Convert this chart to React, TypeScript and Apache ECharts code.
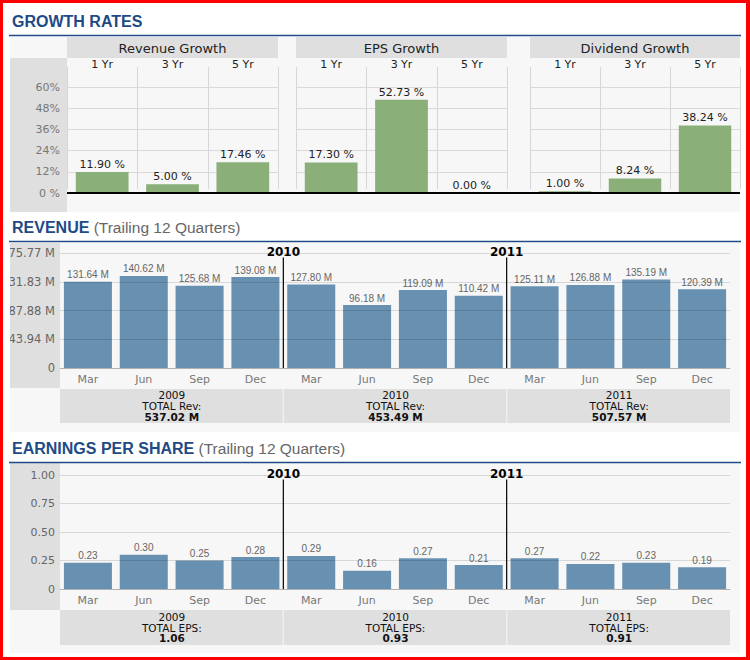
import React, { useEffect, useRef } from "react";
import * as echarts from "echarts";

// ---------- data ----------
const growthGroups = ["Revenue Growth", "EPS Growth", "Dividend Growth"];
const growthPeriods = ["1 Yr", "3 Yr", "5 Yr"];
const revenueGrowth = [11.9, 5.0, 17.46];
const epsGrowth = [17.3, 52.73, 0.0];
const dividendGrowth = [1.0, 8.24, 38.24];
const growthTickLabels = ["0 %", "12%", "24%", "36%", "48%", "60%"];

const quarters = ["Mar", "Jun", "Sep", "Dec", "Mar", "Jun", "Sep", "Dec", "Mar", "Jun", "Sep", "Dec"];
const years = ["2009", "2010", "2011"];
const revenueValues = [131.64, 140.62, 125.68, 139.08, 127.8, 96.18, 119.09, 110.42, 125.11, 126.88, 135.19, 120.39];
const revenueTotals = ["537.02 M", "453.49 M", "507.57 M"];
const revenueTickLabels = ["0", "43.94 M", "87.88 M", "131.83 M", "175.77 M"];
const epsValues = [0.23, 0.3, 0.25, 0.28, 0.29, 0.16, 0.27, 0.21, 0.27, 0.22, 0.23, 0.19];
const epsTotals = ["1.06", "0.93", "0.91"];
const epsTickLabels = ["0", "0.25", "0.50", "0.75", "1.00"];

// ---------- layout / style ----------
const VF = "'DejaVu Sans', Verdana, sans-serif";
const AF = "'Liberation Sans', Arial, sans-serif";
const BLUE = "#1e4a86";
const GREEN = "#8aaf78";
const STEEL = "#6890b0";
const PANEL = "#f7f7f7";
const GRAYBOX = "#dfdfdf";

const growthBoxes = [
  { left: 67, width: 211 },
  { left: 296, width: 211 },
  { left: 530, width: 210 },
];
const gTop = 87;
const gBottom = 193;
const plotLeft = 60;
const plotWidth = 670;
const revTop = 253;
const revBottom = 368;
const epsTop = 475;
const epsBottom = 589;
const revMax = 175.77;
const epsMax = 1.0;
const growthMax = 60;
const markerTopFrac = 0.96;

function App() {
  const ref = useRef<HTMLDivElement>(null);

  useEffect(() => {
    document.body.style.margin = "0";
    if (!ref.current) return;
    const chart = echarts.init(ref.current, null, { renderer: "svg" });

    const growthData = [revenueGrowth, epsGrowth, dividendGrowth];

    const graphics: any[] = [];
    // panels
    graphics.push({ type: "rect", z: -20, shape: { x: 10, y: 37, width: 730, height: 175 }, style: { fill: PANEL } });
    graphics.push({ type: "rect", z: -20, shape: { x: 10, y: 243, width: 730, height: 189 }, style: { fill: PANEL } });
    graphics.push({ type: "rect", z: -20, shape: { x: 10, y: 463, width: 730, height: 190 }, style: { fill: PANEL } });
    // gray label columns
    graphics.push({ type: "rect", z: -19, shape: { x: 10, y: 58, width: 57, height: 154 }, style: { fill: GRAYBOX } });
    graphics.push({ type: "rect", z: -19, shape: { x: 10, y: 243, width: 50, height: 145 }, style: { fill: GRAYBOX } });
    graphics.push({ type: "rect", z: -19, shape: { x: 10, y: 463, width: 50, height: 147 }, style: { fill: GRAYBOX } });

    // titles
    graphics.push({
      type: "text", z: 10, x: 12, y: 21,
      style: { text: "GROWTH RATES", font: `bold 16px ${AF}`, fill: BLUE, verticalAlign: "middle" },
    });
    const sectionTitle = (main: string, y: number) => ({
      type: "text", z: 10, x: 12, y,
      style: {
        text: `{a|${main}}{b| (Trailing 12 Quarters)}`,
        verticalAlign: "middle",
        rich: {
          a: { fontFamily: AF, fontSize: 16, fontWeight: "bold", fill: BLUE },
          b: { fontFamily: AF, fontSize: 15.5, fill: "#666" },
        },
      },
    });
    graphics.push(sectionTitle("REVENUE", 227));
    graphics.push(sectionTitle("EARNINGS PER SHARE", 448));
    // underlines
    [35.5, 241.5, 462.5].forEach((y) =>
      graphics.push({ type: "line", z: 10, shape: { x1: 9, y1: y, x2: 741, y2: y }, style: { stroke: BLUE, lineWidth: 1.5 } })
    );

    // growth headers and separators
    growthBoxes.forEach((b, i) => {
      graphics.push({ type: "rect", z: -18, shape: { x: b.left, y: 37, width: b.width, height: 21 }, style: { fill: GRAYBOX } });
      graphics.push({
        type: "text", z: 10, x: b.left + b.width / 2, y: 48,
        style: { text: growthGroups[i], font: `13px ${VF}`, fill: "#222", align: "center", verticalAlign: "middle" },
      });
      for (let j = 0; j <= growthPeriods.length; j++) {
        const x = Math.round(b.left + (j * b.width) / growthPeriods.length) + 0.5;
        graphics.push({ type: "line", z: -15, shape: { x1: x, y1: 67, x2: x, y2: 189 }, style: { stroke: "#d6d6d6", lineWidth: 1 } });
      }
    });
    // baseline of growth bars
    graphics.push({
      type: "line", z: 20,
      shape: { x1: growthBoxes[0].left, y1: gBottom, x2: growthBoxes[2].left + growthBoxes[2].width, y2: gBottom },
      style: { stroke: "#000", lineWidth: 2 },
    });

    // totals boxes
    const boxW = (plotWidth + 1) / years.length;
    const totalsBoxes = (y: number, h: number, label: string, totals: string[]) => {
      years.forEach((yr, i) => {
        const x = plotLeft + i * boxW;
        graphics.push({ type: "rect", z: -10, shape: { x, y, width: boxW - 1, height: h }, style: { fill: GRAYBOX } });
        graphics.push({
          type: "text", z: 10, x: x + boxW / 2, y: y + h / 2,
          style: {
            text: `{n|${yr}}\n{n|${label}}\n{v|${totals[i]}}`,
            align: "center", verticalAlign: "middle",
            rich: {
              n: { fontFamily: VF, fontSize: 10.5, fill: "#111", lineHeight: 10.6, align: "center" },
              v: { fontFamily: VF, fontSize: 10.5, fontWeight: "bold", fill: "#111", lineHeight: 10.6, align: "center" },
            },
          },
        });
      });
    };
    totalsBoxes(389, 34, "TOTAL Rev:", revenueTotals);
    totalsBoxes(610, 35, "TOTAL EPS:", epsTotals);

    // white mask (clips long axis label) and red frame
    graphics.push({ type: "rect", z: 99, shape: { x: 0, y: 243, width: 10, height: 145 }, style: { fill: "#fff" } });
    graphics.push({ type: "rect", z: 100, shape: { x: 0, y: 0, width: 750, height: 3 }, style: { fill: "#ff0000" } });
    graphics.push({ type: "rect", z: 100, shape: { x: 0, y: 0, width: 3, height: 660 }, style: { fill: "#ff0000" } });
    graphics.push({ type: "rect", z: 100, shape: { x: 746, y: 0, width: 4, height: 660 }, style: { fill: "#ff0000" } });
    graphics.push({ type: "rect", z: 100, shape: { x: 0, y: 657, width: 750, height: 3 }, style: { fill: "#ff0000" } });

    const grids: any[] = [
      ...growthBoxes.map((b) => ({ left: b.left, width: b.width, top: gTop, height: gBottom - gTop, outerBoundsMode: "none" })),
      { left: plotLeft, width: plotWidth, top: revTop, height: revBottom - revTop, outerBoundsMode: "none" },
      { left: plotLeft, width: plotWidth, top: epsTop, height: epsBottom - epsTop, outerBoundsMode: "none" },
    ];

    const xAxes: any[] = [
      ...growthBoxes.map((_, i) => ({
        type: "category", gridIndex: i, data: growthPeriods, position: "top",
        axisLine: { show: false }, axisTick: { show: false }, splitLine: { show: false },
        axisLabel: { margin: 17, fontFamily: VF, fontSize: 11, color: "#222" },
      })),
      {
        type: "category", gridIndex: 3, data: quarters,
        axisLine: { lineStyle: { color: "#cccccc" } }, axisTick: { show: false },
        axisLabel: { margin: 6, fontFamily: VF, fontSize: 11, color: "#777", interval: 0 },
      },
      { type: "value", gridIndex: 3, min: 0, max: quarters.length, show: false },
      {
        type: "category", gridIndex: 4, data: quarters,
        axisLine: { lineStyle: { color: "#cccccc" } }, axisTick: { show: false },
        axisLabel: { margin: 6, fontFamily: VF, fontSize: 11, color: "#777", interval: 0 },
      },
      { type: "value", gridIndex: 4, min: 0, max: quarters.length, show: false },
    ];

    const yAxes: any[] = [
      ...growthBoxes.map((_, i) => ({
        type: "value", gridIndex: i, min: 0, max: growthMax, interval: growthMax / 5,
        axisLine: { show: false }, axisTick: { show: false },
        splitLine: { lineStyle: { color: "#d9d9d9" } },
        axisLabel: {
          show: i === 0, margin: 7, fontFamily: VF, fontSize: 11, color: "#777",
          formatter: (_v: number, idx: number) => growthTickLabels[idx] ?? "",
        },
      })),
      {
        type: "value", gridIndex: 3, min: 0, max: revMax, interval: revMax / 4, z: 5,
        axisLine: { show: false }, axisTick: { show: false },
        splitLine: { lineStyle: { color: "rgba(0,0,0,0.13)" } },
        axisLabel: {
          margin: 5, fontFamily: VF, fontSize: 11.5, color: "#666",
          formatter: (_v: number, idx: number) => revenueTickLabels[idx] ?? "",
        },
      },
      {
        type: "value", gridIndex: 4, min: 0, max: epsMax, interval: epsMax / 4, z: 5,
        axisLine: { show: false }, axisTick: { show: false },
        splitLine: { lineStyle: { color: "rgba(0,0,0,0.13)" } },
        axisLabel: {
          margin: 5, fontFamily: VF, fontSize: 11, color: "#666",
          formatter: (_v: number, idx: number) => epsTickLabels[idx] ?? "",
        },
      },
    ];

    const series: any[] = growthData.map((d, i) => ({
      type: "bar", xAxisIndex: i, yAxisIndex: i, data: d, barWidth: "75%",
      itemStyle: { color: GREEN },
      label: {
        show: true, position: "top", distance: 2, fontFamily: VF, fontSize: 11, color: "#222",
        formatter: (p: any) => `${Number(p.value).toFixed(2)} %`,
      },
    }));

    const quarterSection = (xi: number, xvi: number, yi: number, values: number[], max: number, fmt: (v: number) => string) => {
      series.push({
        type: "bar", xAxisIndex: xi, yAxisIndex: yi, data: values, barWidth: "86%",
        itemStyle: { color: STEEL },
        label: {
          show: true, position: "top", distance: 2, fontFamily: AF, fontSize: 10, color: "#666",
          formatter: (p: any) => fmt(Number(p.value)),
        },
      });
      for (let k = 1; k < years.length; k++) {
        const bx = k * 4;
        series.push({
          type: "line", xAxisIndex: xvi, yAxisIndex: yi, z: 6,
          symbol: "circle", symbolSize: 0, showSymbol: true,
          lineStyle: { color: "#000", width: 1.2 },
          data: [
            { value: [bx, 0], label: { show: false } },
            {
              value: [bx, max * markerTopFrac],
              label: {
                show: true, position: "top", distance: 0, formatter: years[k],
                fontFamily: VF, fontSize: 12, fontWeight: "bold", color: "#000",
              },
            },
          ],
        });
      }
    };
    quarterSection(3, 4, 3, revenueValues, revMax, (v) => `${v.toFixed(2)} M`);
    quarterSection(5, 6, 4, epsValues, epsMax, (v) => v.toFixed(2));

    chart.setOption({
      animation: false,
      grid: grids,
      xAxis: xAxes,
      yAxis: yAxes,
      series,
      graphic: { elements: graphics },
    });

    return () => chart.dispose();
  }, []);

  return <div ref={ref} style={{ width: 750, height: 660 }} />;
}

export default App;
